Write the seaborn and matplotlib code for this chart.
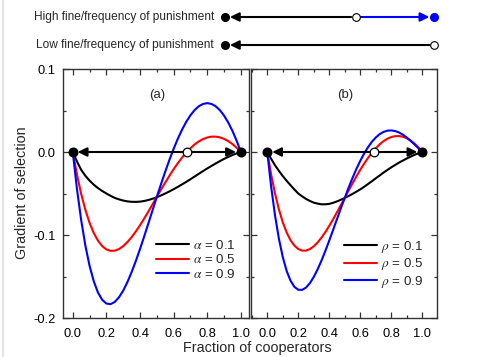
import numpy as np
import pandas as pd
import matplotlib
matplotlib.use("Agg")
import matplotlib.pyplot as plt
import seaborn as sns
from matplotlib.ticker import MultipleLocator, FormatStrFormatter
from matplotlib.lines import Line2D

# ---------------- data ----------------
x_frac = [0.000, 0.025, 0.050, 0.075, 0.100, 0.125, 0.150, 0.175, 0.200, 0.225,
          0.250, 0.275, 0.300, 0.325, 0.350, 0.375, 0.400, 0.425, 0.450, 0.475,
          0.500, 0.525, 0.550, 0.575, 0.600, 0.625, 0.650, 0.675, 0.700, 0.725,
          0.750, 0.775, 0.800, 0.825, 0.850, 0.875, 0.900, 0.925, 0.950, 0.975, 1.000]

# panel (a): alpha
alpha_01 = [0, -0.0115, -0.0215, -0.0287, -0.0345, -0.0394, -0.0435, -0.0470, -0.0500, -0.0528,
            -0.0553, -0.0571, -0.0585, -0.0595, -0.0600, -0.0601, -0.0598, -0.0590, -0.0578, -0.0563,
            -0.0545, -0.0523, -0.0500, -0.0475, -0.0448, -0.0420, -0.0390, -0.0360, -0.0328, -0.0295,
            -0.0262, -0.0230, -0.0198, -0.0168, -0.0138, -0.0110, -0.0083, -0.0059, -0.0036, -0.0017, 0]
alpha_05 = [0, -0.0274, -0.0505, -0.0698, -0.0854, -0.0977, -0.1069, -0.1134, -0.1174, -0.1191,
            -0.1189, -0.1169, -0.1134, -0.1085, -0.1026, -0.0957, -0.0882, -0.0801, -0.0716, -0.0628,
            -0.0540, -0.0453, -0.0368, -0.0286, -0.0207, -0.0134, -0.0067, -0.0007, 0.0046, 0.0092,
            0.0128, 0.0156, 0.0175, 0.0185, 0.0185, 0.0176, 0.0158, 0.0131, 0.0095, 0.0051, 0]
alpha_09 = [0, -0.0448, -0.0822, -0.1129, -0.1373, -0.1559, -0.1694, -0.1781, -0.1826, -0.1833,
            -0.1806, -0.1750, -0.1670, -0.1567, -0.1447, -0.1313, -0.1168, -0.1015, -0.0858, -0.0699,
            -0.0540, -0.0386, -0.0236, -0.0094, 0.0039, 0.0161, 0.0269, 0.0364, 0.0443, 0.0506,
            0.0552, 0.0579, 0.0589, 0.0579, 0.0551, 0.0504, 0.0438, 0.0354, 0.0253, 0.0134, 0]

# panel (b): rho
rho_01 = [0, -0.0082, -0.0160, -0.0227, -0.0290, -0.0347, -0.0400, -0.0452, -0.0500, -0.0535,
          -0.0565, -0.0590, -0.0610, -0.0622, -0.0630, -0.0630, -0.0625, -0.0612, -0.0595, -0.0575,
          -0.0553, -0.0530, -0.0505, -0.0478, -0.0450, -0.0419, -0.0386, -0.0352, -0.0317, -0.0283,
          -0.0248, -0.0216, -0.0185, -0.0156, -0.0128, -0.0103, -0.0078, -0.0056, -0.0034, -0.0016, 0]
rho_05 = [0, -0.0271, -0.0500, -0.0691, -0.0847, -0.0970, -0.1063, -0.1128, -0.1169, -0.1188,
          -0.1188, -0.1169, -0.1136, -0.1089, -0.1031, -0.0964, -0.0889, -0.0809, -0.0725, -0.0638,
          -0.0553, -0.0463, -0.0377, -0.0294, -0.0214, -0.0140, -0.0071, -0.0009, 0.0045, 0.0092,
          0.0131, 0.0160, 0.0180, 0.0191, 0.0192, 0.0184, 0.0166, 0.0138, 0.0101, 0.0055, 0]
rho_09 = [0, -0.0418, -0.0764, -0.1045, -0.1266, -0.1433, -0.1550, -0.1625, -0.1660, -0.1661,
          -0.1633, -0.1580, -0.1505, -0.1413, -0.1307, -0.1190, -0.1066, -0.0937, -0.0807, -0.0677,
          -0.0553, -0.0428, -0.0312, -0.0204, -0.0106, -0.0018, 0.0058, 0.0123, 0.0175, 0.0215,
          0.0242, 0.0257, 0.0260, 0.0252, 0.0235, 0.0208, 0.0174, 0.0134, 0.0091, 0.0045, 0]

labels_a = [r"$\alpha$ = 0.1", r"$\alpha$ = 0.5", r"$\alpha$ = 0.9"]
labels_b = [r"$\rho$ = 0.1", r"$\rho$ = 0.5", r"$\rho$ = 0.9"]
series_colors = ["#000000", "#ff0000", "#0000ff"]

stable_points = [0.0, 1.0]
unstable_a = 0.68
unstable_b = 0.69

# schematic phase lines (top)
schem_labels = ["High fine/frequency of punishment", "Low fine/frequency of punishment"]
schem_high_unstable = 0.625

x_ticks = [0.0, 0.2, 0.4, 0.6, 0.8, 1.0]
y_ticks = [-0.2, -0.1, 0.0, 0.1]

# ---------------- style ----------------
sns.set_theme(style="white")
plt.rcParams["font.family"] = ["Liberation Sans", "DejaVu Sans"]
plt.rcParams["mathtext.fontset"] = "stix"

W, H = 478, 357
fig = plt.figure(figsize=(W / 100, H / 100), dpi=100)
fig.patch.set_facecolor("white")

ax_a = fig.add_axes([62.7 / W, 1 - 318 / H, 186.6 / W, 249 / H])
ax_b = fig.add_axes([251 / W, 1 - 318 / H, 186 / W, 249 / H])

ARROW_BOTH = "<|-|>,head_length=0.45,head_width=0.22"
ARROW_ONE = "-|>,head_length=0.45,head_width=0.22"


def draw_panel(ax, cols, labels, unstable, xlim, tag, show_ylabels):
    for vals, lab, c in zip(cols, labels, series_colors):
        sns.lineplot(x=x_frac, y=vals, color=c, lw=1.5, label=lab, ax=ax, zorder=2)
    # phase line with arrows
    ax.annotate("", xy=(0, 0), xytext=(1, 0), xycoords="data",
                arrowprops=dict(arrowstyle=ARROW_BOTH, color="black", lw=1.5,
                                shrinkA=3.5, shrinkB=3.5, mutation_scale=12),
                zorder=4, annotation_clip=False)
    ax.plot(stable_points, [0, 0], "o", ms=6.2, color="black", zorder=6, clip_on=False)
    ax.plot([unstable], [0], "o", ms=6.2, mfc="white", mec="black", mew=0.9, zorder=6)
    ax.set_xlim(*xlim)
    ax.set_ylim(-0.2, 0.1)
    ax.set_xticks(x_ticks)
    ax.set_yticks(y_ticks)
    ax.xaxis.set_minor_locator(MultipleLocator(0.1))
    ax.yaxis.set_minor_locator(MultipleLocator(0.05))
    ax.xaxis.set_major_formatter(FormatStrFormatter("%.1f"))
    ax.yaxis.set_major_formatter(FormatStrFormatter("%.1f"))
    ax.tick_params(which="both", direction="in", top=True, right=True,
                   bottom=True, left=True, colors="#333333", labelcolor="black",
                   width=0.9)
    ax.tick_params(which="major", length=4, labelsize=9.3)
    ax.tick_params(axis="x", which="major", pad=7.5)
    ax.tick_params(axis="y", which="major", pad=5)
    ax.tick_params(which="minor", length=2)
    ax.tick_params(axis="y", labelleft=show_ylabels)
    for sp in ax.spines.values():
        sp.set_color("#333333")
        sp.set_linewidth(1.0)
    ax.set_xlabel("")
    ax.set_ylabel("")
    ax.text(0.5, 0.069, tag, ha="center", va="center", fontsize=9.5)
    ax.legend(loc="upper left", bbox_to_anchor=(0.5, 0.318), frameon=False,
              fontsize=9.6, handlelength=2.5, handletextpad=0.25,
              labelspacing=0.12, borderpad=0, borderaxespad=0)


draw_panel(ax_a, [alpha_01, alpha_05, alpha_09], labels_a, unstable_a,
           (-0.06, 1.05), "(a)", True)
draw_panel(ax_b, [rho_01, rho_05, rho_09], labels_b, unstable_b,
           (-0.105, 1.095), "(b)", False)

fig.text(257 / W, 1 - 348 / H, "Fraction of cooperators", ha="center", va="center", fontsize=10.4)
fig.text(22 / W, 1 - 193 / H, "Gradient of selection", ha="center", va="center",
         rotation=90, fontsize=10.4)

# ---------------- schematic on top ----------------
ax_s = fig.add_axes([225.3 / W, 1 - 45 / H, 208.7 / W, 28 / H])
ax_s.set_xlim(0, 1)
ax_s.set_ylim(0, 1)
ax_s.axis("off")

arrow_kw = dict(arrowstyle=ARROW_ONE, lw=1.5, shrinkA=3.3, shrinkB=3.3, mutation_scale=12)
# high row (y=1)
ax_s.annotate("", xy=(0, 1), xytext=(schem_high_unstable, 1),
              arrowprops=dict(color="black", **arrow_kw), annotation_clip=False)
ax_s.annotate("", xy=(1, 1), xytext=(schem_high_unstable, 1),
              arrowprops=dict(color="#0000ff", **arrow_kw), annotation_clip=False)
ax_s.plot([0], [1], "o", ms=5.5, color="black", clip_on=False, zorder=5)
ax_s.plot([schem_high_unstable], [1], "o", ms=5.5, mfc="white", mec="black", mew=0.8,
          clip_on=False, zorder=5)
ax_s.plot([1], [1], "o", ms=5.5, color="#0000ff", clip_on=False, zorder=5)
# low row (y=0)
ax_s.annotate("", xy=(0, 0), xytext=(1, 0),
              arrowprops=dict(color="black", **arrow_kw), annotation_clip=False)
ax_s.plot([0], [0], "o", ms=5.5, color="black", clip_on=False, zorder=5)
ax_s.plot([1], [0], "o", ms=5.5, mfc="white", mec="black", mew=0.8, clip_on=False, zorder=5)

ax_s.text(-0.05, 1, schem_labels[0], ha="right", va="center", fontsize=8.6)
ax_s.text(-0.057, 0, schem_labels[1], ha="right", va="center", fontsize=8.6)

# faint left border line
fig.add_artist(Line2D([2.7 / W, 2.7 / W], [0, 1], color="#dcdcec", lw=1.2))

fig.savefig("out.png", dpi=100)
